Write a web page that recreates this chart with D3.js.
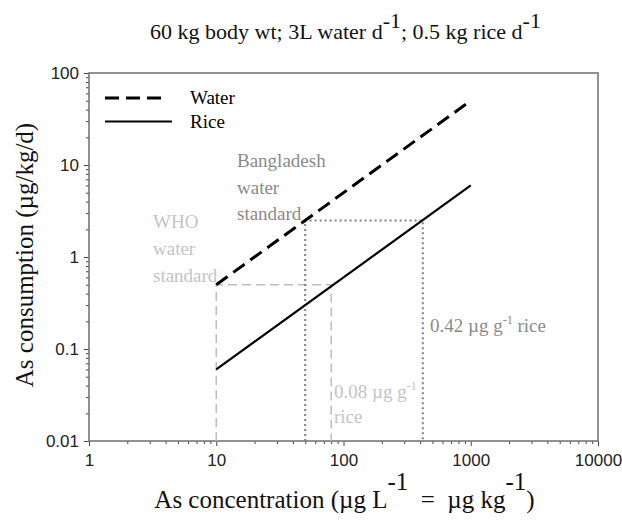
<!DOCTYPE html>
<html>
<head>
<meta charset="utf-8">
<script src="https://cdn.jsdelivr.net/npm/d3@7"></script>
<style>
  body { margin: 0; background: #fff; }
  svg { display: block; }
  .serif { font-family: "Liberation Serif", "Times New Roman", serif; }
  .tick text { font-family: "Liberation Sans", Arial, sans-serif; font-size: 17px; fill: #222; }
</style>
</head>
<body>
<svg id="chart" width="622" height="521"></svg>
<script>
// As concentration (ug/L = ug/kg) vs daily consumption (ug/kg/d)
const concentration = [10, 1000];
const waterIntake = [0.5, 50];
const riceIntake = [0.06, 6];

const xTicks = [1, 10, 100, 1000, 10000];
const yTicks = [0.01, 0.1, 1, 10, 100];

// WHO: 10 ug/L water ~ 0.08 ug/g rice; Bangladesh: 50 ug/L water ~ 0.42 ug/g rice
const whoGuide = [[10, 0.01], [10, 0.5], [80, 0.5], [80, 0.01]];
const bdGuide = [[50, 0.01], [50, 2.5], [420, 2.5], [420, 0.01]];

const svg = d3.select('svg#chart'),
  margin = {left: 89, right: 24, top: 73, bottom: 80},
  width = 622 - margin.left - margin.right,
  height = 521 - margin.top - margin.bottom;

const x = d3.scaleLog().domain([1, 10000]).range([0, width]),
  y = d3.scaleLog().domain([0.01, 100]).range([height, 0]);

const g = svg.append('g')
  .attr('transform', `translate(${margin.left},${margin.top})`);

// minor ticks 2..9 in every decade
function minors(domain) {
  const out = [];
  for (let p = Math.log10(domain[0]); p < Math.log10(domain[1]); p++)
    for (let k = 2; k < 10; k++) out.push(k * Math.pow(10, p));
  return out;
}

g.append('g')
  .attr('transform', `translate(0,${height})`)
  .call(d3.axisBottom(x).tickValues(minors(x.domain())).tickSize(3).tickFormat(''))
  .call(a => a.select('.domain').remove())
  .selectAll('line').attr('stroke', '#444');

g.append('g')
  .call(d3.axisLeft(y).tickValues(minors(y.domain())).tickSize(3).tickFormat(''))
  .call(a => a.select('.domain').remove())
  .selectAll('line').attr('stroke', '#444');

g.append('g')
  .attr('transform', `translate(0,${height})`)
  .call(d3.axisBottom(x).tickValues(xTicks).tickSize(5).tickPadding(8).tickFormat(d3.format('d')))
  .call(a => a.select('.domain').remove())
  .selectAll('line').attr('stroke', '#444');

g.append('g')
  .call(d3.axisLeft(y).tickValues(yTicks).tickSize(5).tickPadding(5).tickFormat(d => String(d)))
  .call(a => a.select('.domain').remove())
  .selectAll('line').attr('stroke', '#444');

// frame
g.append('rect')
  .attr('width', width)
  .attr('height', height)
  .attr('fill', 'none')
  .attr('stroke', '#777')
  .attr('stroke-width', 1.6);

const line = d3.line().x(d => x(d[0])).y(d => y(d[1]));

// guide lines
g.append('path')
  .attr('d', line(whoGuide))
  .attr('fill', 'none')
  .attr('stroke', '#bdbdbd')
  .attr('stroke-width', 1.5)
  .attr('stroke-dasharray', '9,5');

g.append('path')
  .attr('d', line(bdGuide))
  .attr('fill', 'none')
  .attr('stroke', '#808080')
  .attr('stroke-width', 2)
  .attr('stroke-dasharray', '2,3');

// series
g.append('path')
  .attr('d', line(concentration.map((c, i) => [c, waterIntake[i]])))
  .attr('fill', 'none')
  .attr('stroke', '#000')
  .attr('stroke-width', 3)
  .attr('stroke-dasharray', '14,7');

g.append('path')
  .attr('d', line(concentration.map((c, i) => [c, riceIntake[i]])))
  .attr('fill', 'none')
  .attr('stroke', '#000')
  .attr('stroke-width', 2.2);

// legend
const legend = g.append('g').attr('class', 'serif');
legend.append('line')
  .attr('x1', 16).attr('x2', 76).attr('y1', 25).attr('y2', 25)
  .attr('stroke', '#000').attr('stroke-width', 3).attr('stroke-dasharray', '14,7');
legend.append('line')
  .attr('x1', 16).attr('x2', 83).attr('y1', 48.5).attr('y2', 48.5)
  .attr('stroke', '#000').attr('stroke-width', 2.2);
legend.append('text').attr('x', 101).attr('y', 31).attr('font-size', 19).text('Water');
legend.append('text').attr('x', 101).attr('y', 55).attr('font-size', 19).text('Rice');

// annotations
function block(lines, px, py, color, step) {
  const t = svg.append('text')
    .attr('class', 'serif')
    .attr('font-size', 19)
    .attr('fill', color);
  lines.forEach((l, i) => {
    t.append('tspan').attr('x', px).attr('y', py + i * step).text(l);
  });
}
block(['Bangladesh', 'water', 'standard'], 237, 167, '#8a8a8a', 26.5);
block(['WHO', 'water', 'standard'], 153, 228, '#c4c4c4', 26.8);

const t042 = svg.append('text').attr('class', 'serif').attr('font-size', 19)
  .attr('fill', '#8a8a8a').attr('x', 430).attr('y', 332);
t042.append('tspan').text('0.42 µg g');
t042.append('tspan').attr('font-size', 12).attr('dy', -8).text('-1');
t042.append('tspan').attr('dy', 8).text(' rice');

const t008 = svg.append('text').attr('class', 'serif').attr('font-size', 19)
  .attr('fill', '#c4c4c4').attr('x', 334).attr('y', 398);
t008.append('tspan').text('0.08 µg g');
t008.append('tspan').attr('font-size', 12).attr('dy', -8).text('-1');
svg.append('text').attr('class', 'serif').attr('font-size', 19)
  .attr('fill', '#c4c4c4').attr('x', 334).attr('y', 423).text('rice');

// title
const title = svg.append('text').attr('class', 'serif')
  .attr('x', margin.left + width / 2 + 2).attr('y', 39)
  .attr('text-anchor', 'middle').attr('font-size', 22).attr('fill', '#111');
title.append('tspan').text('60 kg body wt; 3L water d');
title.append('tspan').attr('dy', -11).text('-1');
title.append('tspan').attr('dy', 11).text('; 0.5 kg rice d');
title.append('tspan').attr('dy', -11).text('-1');

// axis titles
const xt = svg.append('text').attr('class', 'serif')
  .attr('x', margin.left + width / 2 + 1).attr('y', 508)
  .attr('text-anchor', 'middle').attr('font-size', 25).attr('fill', '#111');
xt.append('tspan').text('As concentration (µg L');
xt.append('tspan').attr('dy', -18).text('-1');
xt.append('tspan').attr('dy', 18).text('\u00a0\u00a0=\u00a0\u00a0µg kg');
xt.append('tspan').attr('dy', -18).text('-1');
xt.append('tspan').attr('dy', 18).text(')');

svg.append('text').attr('class', 'serif')
  .attr('transform', `translate(33,${margin.top + height / 2 - 2}) rotate(-90)`)
  .attr('text-anchor', 'middle').attr('font-size', 25).attr('fill', '#111')
  .text('As consumption (µg/kg/d)');
</script>
</body>
</html>
